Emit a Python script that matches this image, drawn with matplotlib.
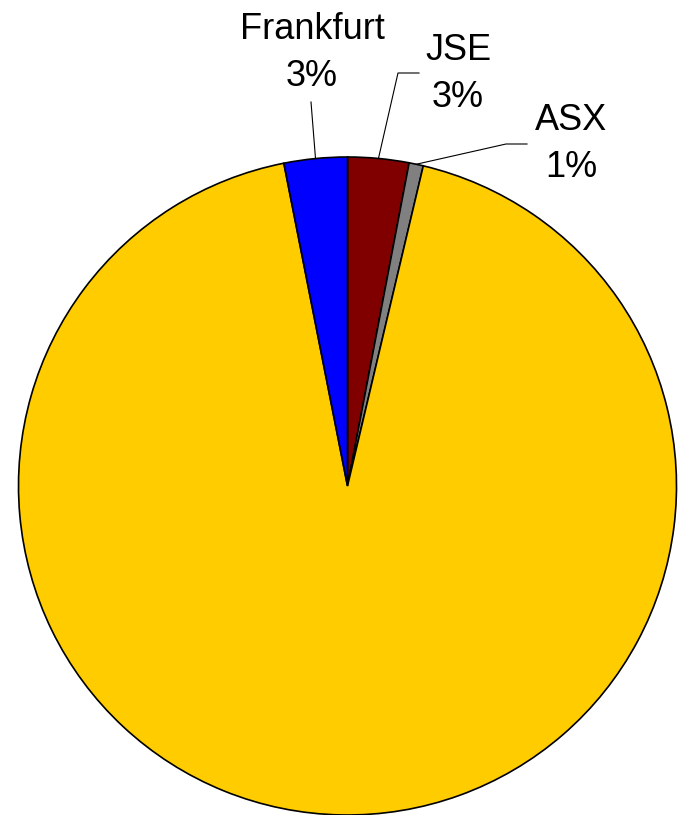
import matplotlib.pyplot as plt
import numpy as np

plt.rcParams['font.family'] = ['Liberation Sans', 'DejaVu Sans']

# slices, clockwise from 12 o'clock
markets = ['JSE', 'ASX', 'Other', 'Frankfurt']
shares = [3.0, 0.7, 93.2, 3.1]
labels = ['JSE\n3%', 'ASX\n1%', '', 'Frankfurt\n3%']
colors = ['#800000', '#808080', '#FFCC00', '#0000FF']

W, H = 679, 815
fig = plt.figure(figsize=(W / 100, H / 100), dpi=100)
ax = fig.add_axes([0, 0, 1, 1])

cx, cy, r = 347.5, 329, 329
wedges, _ = ax.pie(shares, colors=colors, startangle=90, counterclock=False,
                   center=(cx, cy), radius=r, frame=True,
                   wedgeprops=dict(edgecolor='black', linewidth=1.2))
ax.set_xlim(0, W)
ax.set_ylim(0, H)
ax.set_aspect('equal')
ax.axis('off')

# label text positions (pixel coords, y from bottom) and leader elbows
text_pos = {'Frankfurt': (312, 762, 'center'),
            'JSE': (425, 741, 'left'),
            'ASX': (535, 671, 'left')}
elbow = {'Frankfurt': [(311, 713)],
         'JSE': [(398, 742), (419, 742)],
         'ASX': [(506, 671), (527, 671)]}

for w, name, lab in zip(wedges, markets, labels):
    if not lab:
        continue
    mid = np.deg2rad((w.theta1 + w.theta2) / 2)
    ex, ey = cx + r * np.cos(mid), cy + r * np.sin(mid)
    pts = [(ex, ey)] + elbow[name]
    ax.plot([p[0] for p in pts], [p[1] for p in pts], color='black', lw=0.8)
    x, y, ha = text_pos[name]
    ax.text(x, y, lab, ha=ha, va='center', fontsize=26,
            multialignment='center', linespacing=1.42)

fig.savefig('out.png', dpi=100)
